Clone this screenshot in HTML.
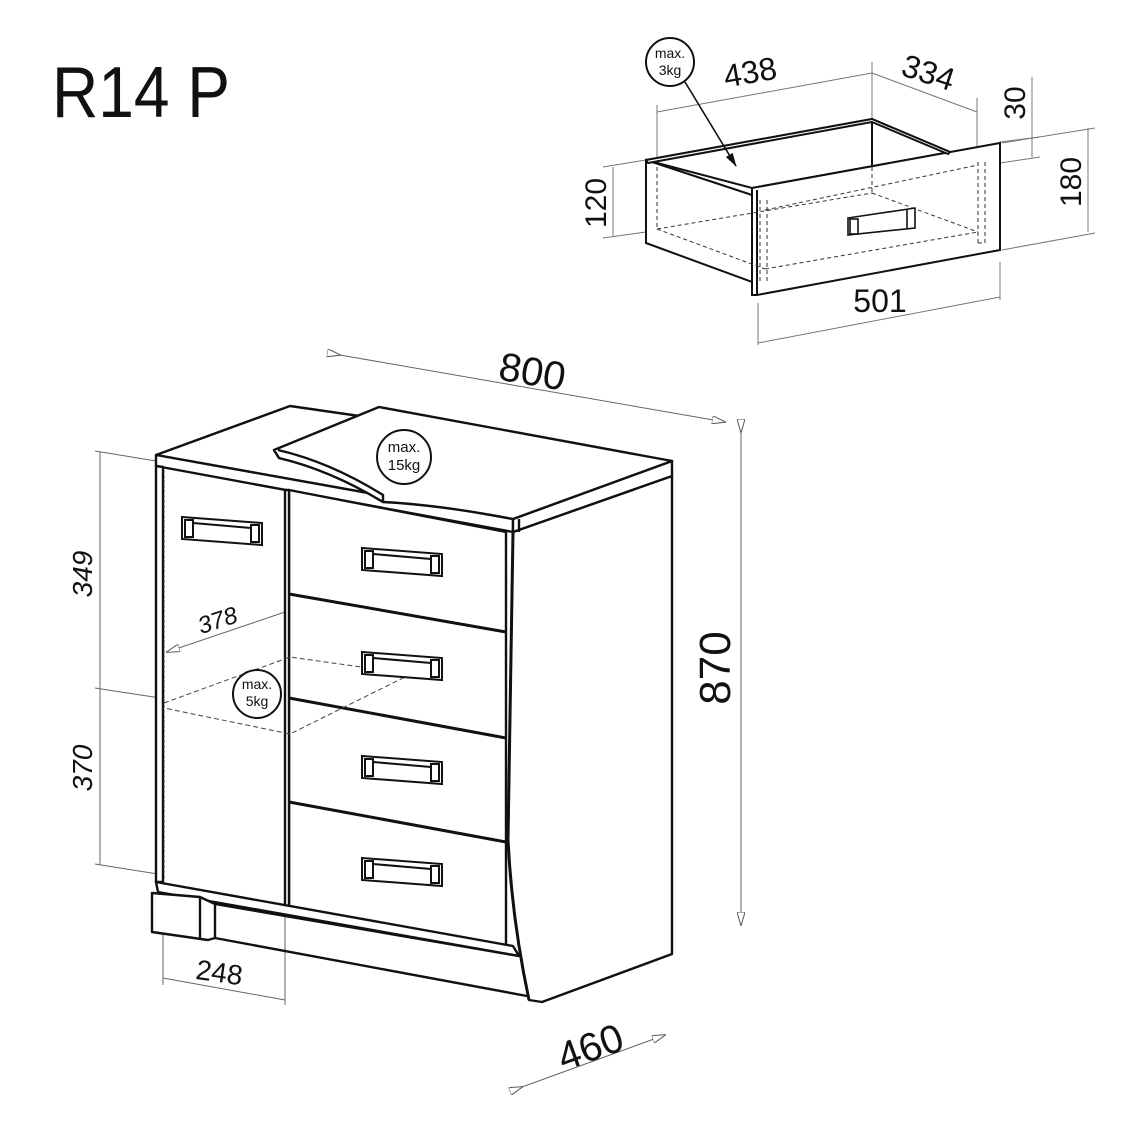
<!DOCTYPE html>
<html><head><meta charset="utf-8"><style>
html,body{margin:0;padding:0;background:#fff}
svg{display:block}
text{font-family:"Liberation Sans",sans-serif;fill:#111}
</style></head><body>
<svg width="1134" height="1134" viewBox="0 0 1134 1134" xmlns="http://www.w3.org/2000/svg">
<defs>
<marker id="ar" markerWidth="14" markerHeight="8" refX="13" refY="4" orient="auto" markerUnits="userSpaceOnUse">
<path d="M0,0 L14,4 L0,8 Z" fill="#fff" stroke="#555" stroke-width="1"/></marker>
<marker id="ab" markerWidth="14" markerHeight="8" refX="13" refY="4" orient="auto" markerUnits="userSpaceOnUse">
<path d="M0,0 L14,4 L0,8 Z" fill="#111"/></marker>
<g id="h" fill="#fff" stroke="#111" stroke-width="2"><polygon points="0,0 80,6 80,28 0,22"/><rect x="3" y="3" width="8" height="17"/><rect x="69" y="8" width="8" height="17"/><line x1="11" y1="6" x2="69" y2="11"/></g>
</defs>
<text x="52" y="117" font-size="72" textLength="178" lengthAdjust="spacingAndGlyphs">R14 P</text>

<!-- ===== DRAWER ===== -->
<g fill="none" stroke="#777" stroke-width="1">
<line x1="657" y1="112" x2="872" y2="73"/><line x1="872" y1="73" x2="977" y2="112"/>
<line x1="657" y1="105" x2="657" y2="160"/><line x1="872" y1="62" x2="872" y2="118"/><line x1="977" y1="98" x2="977" y2="150"/>
<line x1="613" y1="167" x2="613" y2="237"/><line x1="603" y1="167" x2="646" y2="160"/><line x1="603" y1="238" x2="646" y2="232"/>
<line x1="1032" y1="77" x2="1032" y2="157"/><line x1="1000" y1="142" x2="1040" y2="137"/><line x1="1000" y1="163" x2="1040" y2="157"/>
<line x1="1088" y1="128" x2="1088" y2="232"/><line x1="1002" y1="143" x2="1095" y2="128"/><line x1="1002" y1="250" x2="1095" y2="233"/>
<line x1="758" y1="343" x2="1000" y2="297"/><line x1="758" y1="303" x2="758" y2="345"/><line x1="1000" y1="262" x2="1000" y2="300"/>
</g>
<g fill="#fff" stroke="#111" stroke-width="2">
<polygon points="646,160 872,119 950,152 752,188"/>
<polygon points="646,160 752,195 752,282 646,243"/>
<line x1="872" y1="119" x2="872" y2="167"/>
<polygon points="752,188 1000,143 1000,250 757,295 752,295"/>
<line x1="757" y1="190" x2="757" y2="295"/>
</g>
<g fill="#fff" stroke="#111" stroke-width="2" stroke-linejoin="round">
<polygon points="646,160 872,119 950,152 948,154 872,122 648,163"/>
</g>
<g fill="none" stroke="#333" stroke-width="1" stroke-dasharray="4,3">
<line x1="657" y1="167" x2="657" y2="229"/><line x1="657" y1="229" x2="872" y2="193"/><line x1="872" y1="167" x2="872" y2="193"/>
<line x1="872" y1="193" x2="978" y2="232"/><line x1="765" y1="269" x2="978" y2="232"/><line x1="765" y1="210" x2="978" y2="165"/>
<line x1="760" y1="200" x2="760" y2="283"/><line x1="767" y1="200" x2="767" y2="283"/>
<line x1="978" y1="162" x2="978" y2="243"/><line x1="985" y1="162" x2="985" y2="243"/><line x1="978" y1="243" x2="985" y2="243"/>
<line x1="657" y1="229" x2="765" y2="269"/>
</g>
<g fill="#fff" stroke="#111" stroke-width="1.6">
<polygon points="848,218 915,208 915,228 848,235"/>
<rect x="850" y="219" width="8" height="15"/><line x1="907" y1="210" x2="907" y2="228"/>
</g>
<circle cx="670" cy="62" r="24" fill="#fff" stroke="#111" stroke-width="2"/>
<text x="670" y="58" font-size="14" text-anchor="middle">max.</text>
<text x="670" y="75" font-size="14" text-anchor="middle">3kg</text>
<line x1="685" y1="82" x2="736" y2="166" stroke="#111" stroke-width="1.6" marker-end="url(#ab)"/>
<text x="752" y="83" font-size="32" transform="rotate(-10 752 83)" text-anchor="middle">438</text>
<text x="925" y="83" font-size="32" transform="rotate(18 925 83)" text-anchor="middle">334</text>
<text x="1025" y="103" font-size="30" transform="rotate(-90 1025 103)" text-anchor="middle">30</text>
<text x="1081" y="182" font-size="30" transform="rotate(-90 1081 182)" text-anchor="middle">180</text>
<text x="606" y="203" font-size="30" transform="rotate(-90 606 203)" text-anchor="middle">120</text>
<text x="880" y="312" font-size="32" text-anchor="middle">501</text>

<!-- ===== CABINET DIMENSIONS ===== -->
<g fill="none" stroke="#666" stroke-width="1">
<line x1="340" y1="355" x2="725" y2="422" marker-end="url(#ar)" marker-start="url(#ar)"/>
<line x1="741" y1="432" x2="741" y2="925" marker-end="url(#ar)" marker-start="url(#ar)"/>
<line x1="522" y1="1087" x2="665" y2="1035" marker-end="url(#ar)" marker-start="url(#ar)"/>
<line x1="100" y1="452" x2="100" y2="865"/>
<line x1="95" y1="451" x2="156" y2="461"/><line x1="95" y1="688" x2="160" y2="698"/><line x1="95" y1="864" x2="158" y2="874"/>
<line x1="163" y1="890" x2="163" y2="985"/><line x1="285" y1="910" x2="285" y2="1005"/>
<line x1="163" y1="978" x2="285" y2="1000"/>
<line x1="285" y1="612" x2="167" y2="652" marker-end="url(#ar)" marker-start="url(#ar)"/>
</g>
<text x="530" y="385" font-size="40" transform="rotate(10 530 385)" text-anchor="middle">800</text>
<text x="730" y="668" font-size="44" transform="rotate(-90 730 668)" text-anchor="middle">870</text>
<text x="595" y="1060" font-size="40" transform="rotate(-20 595 1060)" text-anchor="middle">460</text>
<text x="92" y="574" font-size="28" font-style="italic" transform="rotate(-90 92 574)" text-anchor="middle">349</text>
<text x="92" y="768" font-size="28" font-style="italic" transform="rotate(-90 92 768)" text-anchor="middle">370</text>
<text x="220" y="628" font-size="24" font-style="italic" transform="rotate(-18 220 628)" text-anchor="middle">378</text>
<text x="218" y="982" font-size="28" transform="rotate(8 218 982)" text-anchor="middle">248</text>

<!-- ===== CABINET ===== -->
<g fill="#fff" stroke="#111" stroke-width="2.4" stroke-linejoin="round">
<path d="M513,532 L672,476 L672,954 L542,1002 L529,1000 Q512,920 508,840 Z"/>
<polygon points="156,455 290,406 672,461 513,519"/>
<polygon points="156,455 513,519 513,532 156,466"/>
<polygon points="513,519 672,461 672,476 513,532"/>
<line x1="519" y1="519" x2="519" y2="532"/>
<path d="M274,450 L379,407 L672,461 L513,519 Q440,505 383,502 Q330,470 279,458 Z"/>
<path d="M274,450 L279,458 Q330,470 383,502 L383,495 Q330,462 278,450" />
<polygon points="156,466 163,467 163,882 156,882"/>
<polygon points="289,490 506,532 506,946 289,906"/>
<polygon points="285,490 289,490 289,906 285,906"/>
<polygon points="156,882 513,946 519,956 158,892"/>
<path d="M152,893 L200,897 L215,904 L215,938 L208,940 L152,932 Z"/>
<line x1="200" y1="897" x2="200" y2="940"/>
<line x1="215" y1="904" x2="519" y2="956"/>
<line x1="215" y1="938" x2="527" y2="996"/>
</g>
<g stroke="#111" stroke-width="3" fill="none">
<line x1="289" y1="594" x2="506" y2="632"/>
<line x1="289" y1="698" x2="506" y2="738"/>
<line x1="289" y1="802" x2="506" y2="842"/>
<path d="M513,532 L508,840 Q512,920 529,1000"/>
</g>
<line x1="164" y1="470" x2="164" y2="880" stroke="#333" stroke-width="1" stroke-dasharray="3,2"/>
<g fill="none" stroke="#444" stroke-width="1" stroke-dasharray="5,3">
<polyline points="164,703 290,657 411,674 290,734 164,708"/>
</g>
<use href="#h" x="182" y="517"/>
<use href="#h" x="362" y="548"/>
<use href="#h" x="362" y="652"/>
<use href="#h" x="362" y="756"/>
<use href="#h" x="362" y="858"/>
<circle cx="404" cy="457" r="27" fill="#fff" stroke="#111" stroke-width="2"/>
<text x="404" y="452" font-size="15" text-anchor="middle">max.</text>
<text x="404" y="470" font-size="15" text-anchor="middle">15kg</text>
<circle cx="257" cy="694" r="24" fill="#fff" stroke="#111" stroke-width="2"/>
<text x="257" y="689" font-size="14" text-anchor="middle">max.</text>
<text x="257" y="706" font-size="14" text-anchor="middle">5kg</text>
</svg>
</body></html>
